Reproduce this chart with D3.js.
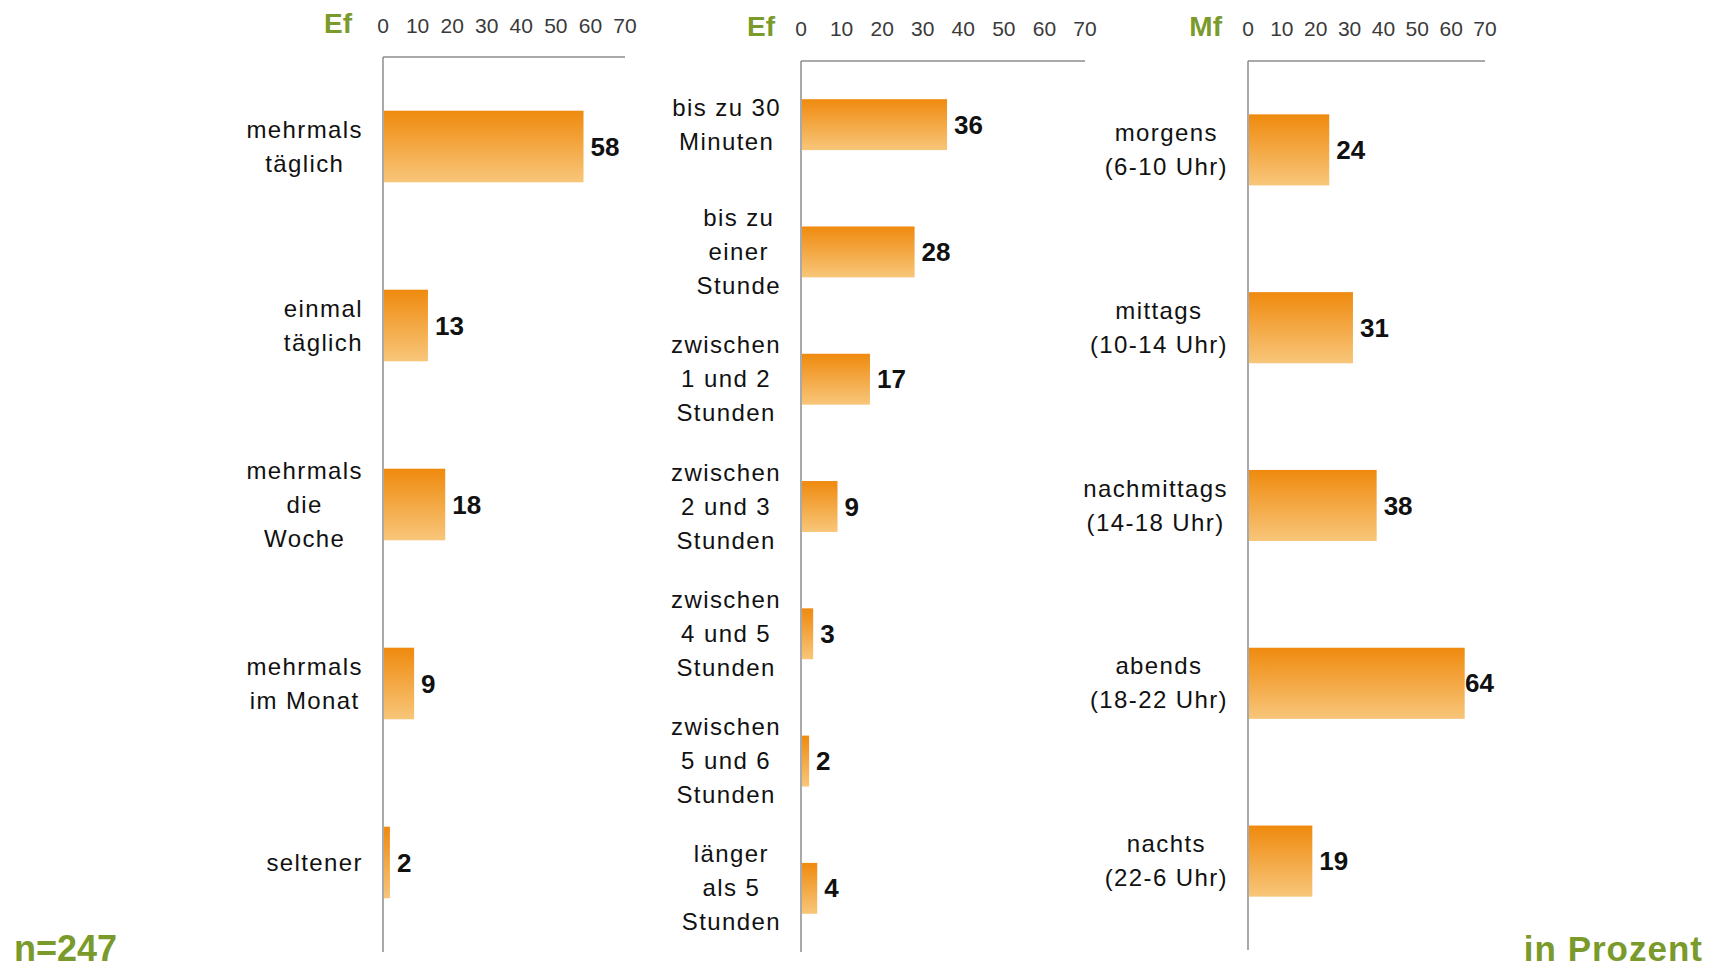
<!DOCTYPE html>
<html>
<head>
<meta charset="utf-8">
<script src="https://cdn.jsdelivr.net/npm/d3@7"></script>
<style>
    body { margin: 0; background: #fff; }
    text { font-family: "Liberation Sans", Arial, sans-serif; }
</style>
</head>
<body>
<svg id="chart" width="1717" height="971"></svg>
<script>
// frequency of use
const freqLabels = [["mehrmals", "täglich"], ["einmal", "täglich"], ["mehrmals", "die", "Woche"], ["mehrmals", "im Monat"], ["seltener"]];
const freqValues = [58, 13, 18, 9, 2];

// duration of use
const durLabels = [["bis zu 30", "Minuten"], ["bis zu", "einer", "Stunde"], ["zwischen", "1 und 2", "Stunden"],
    ["zwischen", "2 und 3", "Stunden"], ["zwischen", "4 und 5", "Stunden"], ["zwischen", "5 und 6", "Stunden"], ["länger", "als 5", "Stunden"]];
const durValues = [36, 28, 17, 9, 3, 2, 4];

// time of day
const timeLabels = [["morgens", "(6-10 Uhr)"], ["mittags", "(10-14 Uhr)"], ["nachmittags", "(14-18 Uhr)"], ["abends", "(18-22 Uhr)"], ["nachts", "(22-6 Uhr)"]];
const timeValues = [24, 31, 38, 64, 19];

const tickValues = [0, 10, 20, 30, 40, 50, 60, 70];
const panelTitles = ["Ef", "Ef", "Mf"];

const GREEN = "#7a9a2b";
const svg = d3.select("#chart");

const grad = svg.append("defs").append("linearGradient")
    .attr("id", "barGrad")
    .attr("x1", 0).attr("y1", 0).attr("x2", 0).attr("y2", 1);
grad.append("stop").attr("offset", "0%").attr("stop-color", "#ef8a0e");
grad.append("stop").attr("offset", "100%").attr("stop-color", "#f8c67a");

const panels = [
    {title: panelTitles[0], labels: freqLabels, values: freqValues, x: [383, 625], y: [57, 952], tickY: 33, titleGap: 31},
    {title: panelTitles[1], labels: durLabels, values: durValues, x: [801, 1085], y: [61, 952], tickY: 36, titleGap: 26},
    {title: panelTitles[2], labels: timeLabels, values: timeValues, x: [1248, 1485], y: [61, 950], tickY: 36, titleGap: 26},
];

panels.forEach(drawPanel);

function drawPanel(p) {
    const g = svg.append("g");
    const x = d3.scaleLinear().domain([0, 70]).range(p.x);
    const y = d3.scaleBand()
        .domain(d3.range(p.values.length))
        .range(p.y)
        .paddingInner(0.6)
        .paddingOuter(0.3);

    // tick labels on top, no tick marks
    g.selectAll("text.tick")
        .data(tickValues)
        .join("text")
        .attr("class", "tick")
        .attr("x", d => x(d))
        .attr("y", p.tickY)
        .attr("text-anchor", "middle")
        .style("font-size", "21px")
        .style("fill", "#3a3a3a")
        .text(d => d);

    g.append("text")
        .attr("x", p.x[0] - p.titleGap)
        .attr("y", p.tickY)
        .attr("text-anchor", "end")
        .style("font-size", "28px")
        .style("font-weight", "bold")
        .style("fill", GREEN)
        .text(p.title);

    // axis lines
    g.append("line")
        .attr("x1", p.x[0]).attr("x2", p.x[1])
        .attr("y1", p.y[0]).attr("y2", p.y[0])
        .style("stroke", "#8c8c8c").style("stroke-width", 1.5);
    g.append("line")
        .attr("x1", p.x[0]).attr("x2", p.x[0])
        .attr("y1", p.y[0]).attr("y2", p.y[1])
        .style("stroke", "#8c8c8c").style("stroke-width", 1.5);

    g.selectAll("rect.bar")
        .data(p.values)
        .join("rect")
        .attr("class", "bar")
        .attr("x", x(0) + 1)
        .attr("y", (d, i) => y(i))
        .attr("width", d => x(d) - x(0) - 1)
        .attr("height", y.bandwidth())
        .style("fill", "url(#barGrad)");

    g.selectAll("text.value")
        .data(p.values)
        .join("text")
        .attr("class", "value")
        .attr("x", d => Math.min(x(d) + 7, p.x[1] - 20))
        .attr("y", (d, i) => y(i) + y.bandwidth() / 2 + 9)
        .style("font-size", "26px")
        .style("font-weight", "bold")
        .style("fill", "#111")
        .text(d => d);

    // category labels: block right aligned to the axis, lines centred in the block
    const LINE_H = 34;
    p.labels.forEach((lines, i) => {
        const cy = y(i) + y.bandwidth() / 2;
        const lbl = g.append("text")
            .style("font-size", "24px")
            .style("letter-spacing", "1.4px")
            .style("fill", "#111")
            .attr("text-anchor", "middle");
        const spans = lines.map((t, k) => lbl.append("tspan")
            .attr("y", cy + (k - (lines.length - 1) / 2) * LINE_H + 8)
            .text(t));
        const maxW = d3.max(spans, s => s.node().getComputedTextLength());
        spans.forEach(s => s.attr("x", p.x[0] - 20 - maxW / 2));
    });
}

svg.append("text")
    .attr("x", 14).attr("y", 961)
    .style("font-size", "36px").style("font-weight", "bold")
    .style("fill", GREEN)
    .text("n=247");

svg.append("text")
    .attr("x", 1703).attr("y", 961)
    .attr("text-anchor", "end")
    .style("font-size", "35px").style("font-weight", "bold")
    .style("letter-spacing", "1px")
    .style("fill", GREEN)
    .text("in Prozent");
</script>
</body>
</html>
